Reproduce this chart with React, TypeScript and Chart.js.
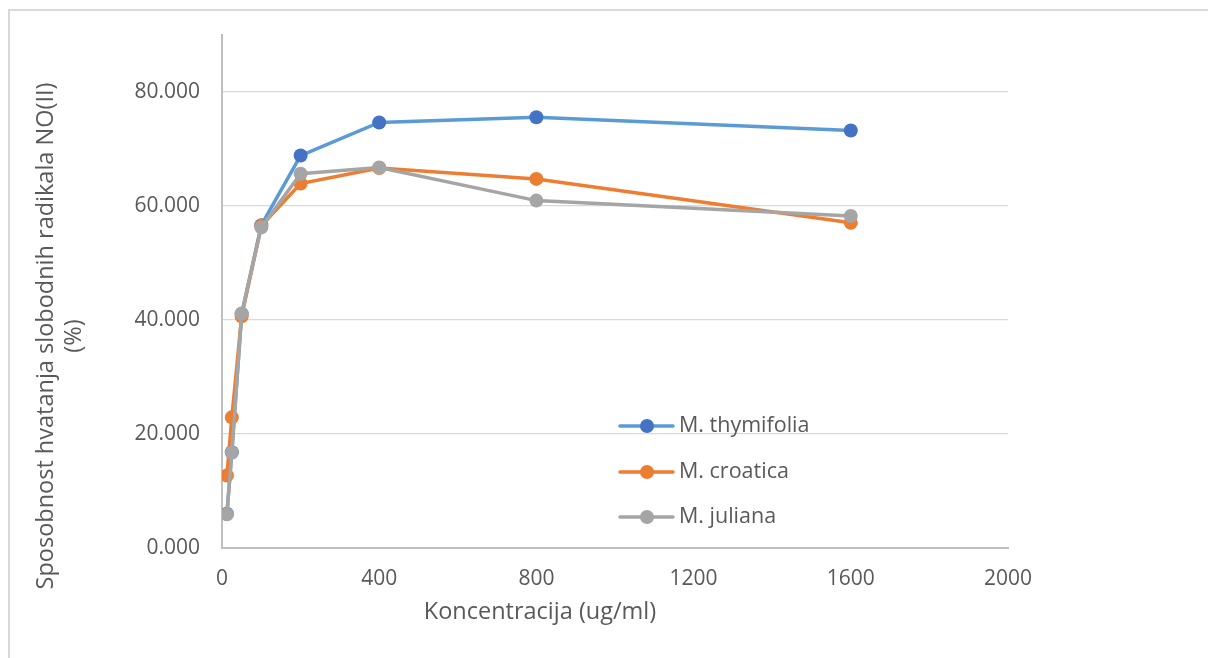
import React, { useEffect, useRef } from "react";
import { Chart, registerables } from "chart.js";

Chart.register(...registerables);

const concentrations = [12.5, 25, 50, 100, 200, 400, 800, 1600];
const thymifolia = [6.0, 16.8, 41.0, 56.6, 68.8, 74.6, 75.5, 73.2];
const croatica = [12.7, 22.9, 40.6, 56.5, 63.9, 66.6, 64.7, 57.0];
const juliana = [5.9, 16.7, 41.1, 56.2, 65.6, 66.7, 60.9, 58.2];

const seriesNames = ["M. thymifolia", "M. croatica", "M. juliana"];
const lineColors = ["#5B9BD5", "#ED7D31", "#A5A5A5"];
const markerColors = ["#4472C4", "#ED7D31", "#A5A5A5"];

const xTitle = "Koncentracija (ug/ml)";
const yTitleLines = ["Sposobnost hvatanja slobodnih radikala NO(II)", "(%)"];

const FONT = "'Open Sans', sans-serif";
const TEXT = "#595959";

export default function App() {
  const ref = useRef<HTMLCanvasElement | null>(null);

  useEffect(() => {
    const canvas = ref.current;
    if (!canvas) return;
    const seriesValues = [thymifolia, croatica, juliana];

    const decor = {
      id: "decor",
      beforeDraw(chart: any) {
        const ctx = chart.ctx;
        ctx.save();
        ctx.strokeStyle = "#D9D9D9";
        ctx.lineWidth = 2;
        ctx.beginPath();
        ctx.moveTo(9, 700);
        ctx.lineTo(9, 10);
        ctx.lineTo(1300, 10);
        ctx.stroke();
        ctx.restore();
      },
      afterDraw(chart: any) {
        const ctx = chart.ctx;
        ctx.save();
        ctx.fillStyle = TEXT;
        ctx.font = `23.5px ${FONT}`;
        ctx.textAlign = "center";
        ctx.textBaseline = "middle";
        // x title
        ctx.fillText(xTitle, 540, 612);
        // y title
        ctx.save();
        ctx.translate(46, 336);
        ctx.rotate(-Math.PI / 2);
        ctx.fillText(yTitleLines[0], 0, 0);
        ctx.fillText(yTitleLines[1], 0, 28);
        ctx.restore();
        // legend
        ctx.font = `21.5px ${FONT}`;
        const lx = 620;
        const rows = [426, 472, 517];
        for (let i = 0; i < seriesNames.length; i++) {
          const y = rows[i];
          ctx.strokeStyle = lineColors[i];
          ctx.lineWidth = 3.5;
          ctx.lineCap = "round";
          ctx.beginPath();
          ctx.moveTo(lx, y);
          ctx.lineTo(lx + 53, y);
          ctx.stroke();
          ctx.fillStyle = markerColors[i];
          ctx.beginPath();
          ctx.arc(lx + 27, y, 7, 0, Math.PI * 2);
          ctx.fill();
          ctx.fillStyle = TEXT;
          ctx.textAlign = "left";
          ctx.fillText(seriesNames[i], lx + 59, y);
        }
        ctx.restore();
      },
    };

    const chart = new Chart(canvas, {
      type: "line",
      data: {
        datasets: seriesNames.map((name, i) => ({
          label: name,
          data: concentrations.map((c, j) => ({ x: c, y: seriesValues[i][j] })),
          borderColor: lineColors[i],
          backgroundColor: markerColors[i],
          pointBackgroundColor: markerColors[i],
          pointBorderColor: markerColors[i],
          pointRadius: 7,
          pointBorderWidth: 0,
          borderWidth: 3.5,
          tension: 0,
          fill: false,
          order: 2 - i,
        })),
      },
      options: {
        responsive: false,
        animation: false,
        events: [],
        layout: { padding: { left: 0, right: 200, top: 33, bottom: 0 } },
        plugins: {
          legend: { display: false },
          tooltip: { enabled: false },
          title: { display: false },
        },
        scales: {
          x: {
            type: "linear",
            min: 0,
            max: 2000,
            ticks: {
              stepSize: 400,
              color: TEXT,
              font: { family: FONT, size: 21 },
              padding: 18,
              maxRotation: 0,
              callback: (v: any) => String(v),
            },
            grid: { display: false, drawTicks: false },
            border: { display: true, color: "#BFBFBF", width: 2 },
            afterFit(scale: any) {
              scale.height = 110;
            },
          },
          y: {
            type: "linear",
            min: 0,
            max: 90,
            ticks: {
              stepSize: 20,
              color: TEXT,
              font: { family: FONT, size: 21 },
              padding: 22,
              callback: (v: any) => Number(v).toFixed(3),
            },
            afterBuildTicks(scale: any) {
              scale.ticks = scale.ticks.filter((t: any) => t.value <= 80);
            },
            grid: { color: "#D9D9D9", lineWidth: 1.3, drawTicks: false },
            border: { display: true, color: "#BFBFBF", width: 2 },
            afterFit(scale: any) {
              scale.width = 222;
            },
          },
        },
      },
      plugins: [decor],
    } as any);

    return () => chart.destroy();
  }, []);

  return (
    <div style={{ position: "absolute", left: 0, top: 0, width: 1208, height: 658, background: "#fff" }}>
      <canvas ref={ref} width={1208} height={658} style={{ width: 1208, height: 658, display: "block" }} />
    </div>
  );
}
